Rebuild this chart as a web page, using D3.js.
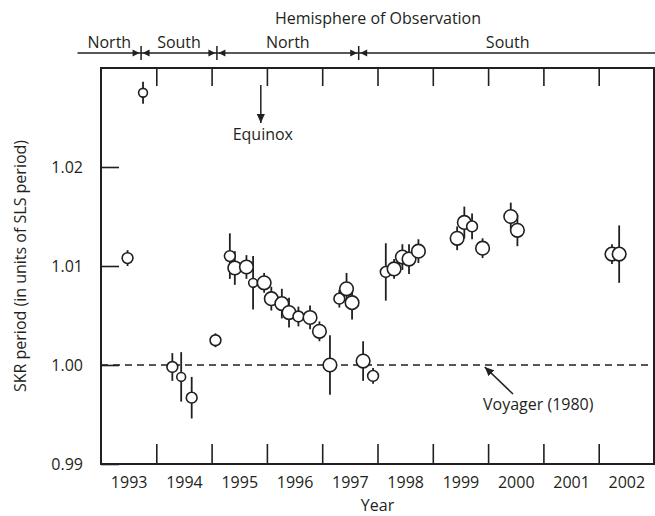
<!DOCTYPE html>
<meta charset="utf-8">
<style>

html, body {
  margin: 0;
  background: #fff;
}

svg text {
  font-family: "Open Sans", "Noto Sans", sans-serif;
  fill: #231f20;
}

.frame {
  fill: none;
  stroke: #231f20;
  stroke-width: 2px;
}

.ticks line {
  stroke: #231f20;
  stroke-width: 1.6px;
}

.errs line {
  stroke: #231f20;
  stroke-width: 1.8px;
}

.pts circle {
  fill: #fff;
  stroke: #231f20;
  stroke-width: 1.6px;
}

</style>

<body>
  <svg class="svg" width="655" height="516"></svg>
</body>

<script src="https://cdn.jsdelivr.net/npm/d3@7"></script>
<script>

/* data */
var years = [1993.48, 1993.76, 1994.29, 1994.45, 1994.64, 1995.07, 1995.33, 1995.42,
  1995.63, 1995.75, 1995.95, 1996.08, 1996.27, 1996.40, 1996.57, 1996.78, 1996.95,
  1997.14, 1997.31, 1997.44, 1997.54, 1997.74, 1997.92, 1998.15, 1998.30, 1998.45,
  1998.57, 1998.74, 1999.44, 1999.57, 1999.71, 1999.90, 2000.41, 2000.53, 2002.24, 2002.37];
var periods = [1.0108, 1.0275, 0.9998, 0.9988, 0.9967, 1.0025, 1.0110, 1.0098,
  1.0099, 1.0083, 1.0083, 1.0067, 1.0062, 1.0053, 1.0049, 1.0048, 1.0034,
  1.0000, 1.0067, 1.0077, 1.0063, 1.0004, 0.9989, 1.0094, 1.0097, 1.0109,
  1.0107, 1.0115, 1.0128, 1.0144, 1.0140, 1.0118, 1.0150, 1.0136, 1.0112, 1.0112];
var errors = [0.0008, 0.0011, 0.0014, 0.0025, 0.0021, 0.0007, 0.0023, 0.0017,
  0.0012, 0.0027, 0.0010, 0.0012, 0.0015, 0.0015, 0.0010, 0.0012, 0.0010,
  0.0030, 0.0009, 0.0016, 0.0017, 0.0020, 0.0008, 0.0029, 0.0010, 0.0013,
  0.0015, 0.0012, 0.0012, 0.0016, 0.0013, 0.0010, 0.0014, 0.0016, 0.0010, 0.0029];
// relative marker weight (1 small .. 3 large)
var weights = [2, 1, 2, 1, 2, 2, 2, 3, 3, 1, 3, 3, 3, 3, 2, 3, 3,
  3, 2, 3, 3, 3, 2, 2, 3, 3, 3, 3, 3, 3, 2, 3, 3, 3, 3, 3];

var yearLabels = ["1993", "1994", "1995", "1996", "1997", "1998", "1999", "2000", "2001", "2002"];
var yTicks = [0.99, 1.00, 1.01, 1.02];

var hemiNames = ["North", "South", "North", "South"];
var hemiEdges = [1992.575, 1993.725, 1995.096, 1997.66, 2003.05];

var equinoxYear = 1995.89;
var voyagerPeriod = 1.00;

/* d3 */
var svg = d3.select(".svg");
var fs = 16;
var mLeft = 101, mRight = 654, mTop = 68, mBottom = 464;

var x = d3.scaleLinear().domain([1993, 2003]).range([mLeft, mRight]);
var y = d3.scaleLinear().domain([0.99, 1.03]).range([mBottom, mTop]);
var r = d3.scaleOrdinal().domain([1, 2, 3]).range([4.4, 5.4, 6.8]);

var pts = years.map(function(d, i) {
  return {year: d, v: periods[i], e: errors[i], w: weights[i]};
});

svg.append("defs").append("marker")
    .attr("id", "head")
    .attr("viewBox", "0 -5 10 10")
    .attr("refX", 10)
    .attr("refY", 0)
    .attr("markerWidth", 9)
    .attr("markerHeight", 9)
    .attr("markerUnits", "userSpaceOnUse")
    .attr("orient", "auto")
  .append("path")
    .attr("d", "M0,-4.5L10,0L0,4.5Z")
    .attr("fill", "#231f20");

// ticks on the inside of the frame
var innerYears = d3.range(1994, 2003);

svg.append("g")
    .attr("class", "ticks")
    .attr("transform", "translate(0," + mBottom + ")")
    .call(d3.axisBottom(x).tickValues(innerYears).tickSize(-20).tickFormat(""))
    .call(function(g) { g.select(".domain").remove(); });

svg.append("g")
    .attr("class", "ticks")
    .attr("transform", "translate(0," + mTop + ")")
    .call(d3.axisTop(x).tickValues(innerYears).tickSize(-18).tickFormat(""))
    .call(function(g) { g.select(".domain").remove(); });

var yAxis = svg.append("g")
    .attr("class", "ticks")
    .attr("transform", "translate(" + mLeft + ",0)")
    .call(d3.axisLeft(y).tickValues(yTicks).tickSize(-18).tickPadding(18)
      .tickFormat(d3.format(".2f")));
yAxis.select(".domain").remove();
yAxis.selectAll("text")
    .attr("font-size", fs)
    .attr("font-family", null)
    .attr("fill", null);

// year labels centred in each year
var xLabels = svg.append("g")
    .attr("transform", "translate(0," + mBottom + ")")
    .call(d3.axisBottom(x)
      .tickValues(yearLabels.map(function(d) { return +d + 0.5; }))
      .tickSize(0).tickPadding(13)
      .tickFormat(function(d, i) { return yearLabels[i]; }));
xLabels.select(".domain").remove();
xLabels.selectAll("text")
    .attr("font-size", fs)
    .attr("font-family", null)
    .attr("fill", null);

svg.append("text")
    .attr("x", (mLeft + mRight) / 2)
    .attr("y", 511)
    .attr("text-anchor", "middle")
    .attr("font-size", fs)
    .text("Year");

svg.append("text")
    .attr("transform", "translate(26," + (mTop + mBottom) / 2 + ") rotate(-90)")
    .attr("text-anchor", "middle")
    .attr("font-size", fs)
    .text("SKR period (in units of SLS period)");

// voyager reference line
svg.append("line")
    .attr("x1", mLeft).attr("x2", mRight)
    .attr("y1", y(voyagerPeriod)).attr("y2", y(voyagerPeriod))
    .attr("stroke", "#231f20")
    .attr("stroke-width", 1.5)
    .attr("stroke-dasharray", "7,5");

// error bars then circles
svg.append("g")
    .attr("class", "errs")
  .selectAll("line")
  .data(pts)
  .enter().append("line")
    .attr("x1", function(d) { return x(d.year); })
    .attr("x2", function(d) { return x(d.year); })
    .attr("y1", function(d) { return y(d.v - d.e); })
    .attr("y2", function(d) { return y(d.v + d.e); });

svg.append("g")
    .attr("class", "pts")
  .selectAll("circle")
  .data(pts)
  .enter().append("circle")
    .attr("cx", function(d) { return x(d.year); })
    .attr("cy", function(d) { return y(d.v); })
    .attr("r", function(d) { return r(d.w); });

svg.append("rect")
    .attr("class", "frame")
    .attr("x", mLeft).attr("y", mTop)
    .attr("width", mRight - mLeft).attr("height", mBottom - mTop);

// hemisphere bar on top
var hemiY = 53;

svg.append("text")
    .attr("x", 378)
    .attr("y", 24)
    .attr("text-anchor", "middle")
    .attr("font-size", fs)
    .text("Hemisphere of Observation");

svg.append("line")
    .attr("x1", x(hemiEdges[0])).attr("x2", x(hemiEdges[hemiEdges.length - 1]))
    .attr("y1", hemiY).attr("y2", hemiY)
    .attr("stroke", "#231f20")
    .attr("stroke-width", 1.5);

svg.append("g")
  .selectAll("text")
  .data(hemiNames)
  .enter().append("text")
    .attr("x", function(d, i) { return x((hemiEdges[i] + hemiEdges[i + 1]) / 2); })
    .attr("y", hemiY - 5)
    .attr("text-anchor", "middle")
    .attr("font-size", fs)
    .text(String);

var inner = hemiEdges.slice(1, -1);
var bars = svg.append("g").selectAll("g")
  .data(inner)
  .enter().append("g")
    .attr("transform", function(d) { return "translate(" + x(d) + "," + hemiY + ")"; });

bars.append("line")
    .attr("y1", -7).attr("y2", 7)
    .attr("stroke", "#231f20")
    .attr("stroke-width", 1.5);

bars.append("path")
    .attr("d", "M-1.5,0L-8.5,-3.5L-8.5,3.5ZM1.5,0L8.5,-3.5L8.5,3.5Z")
    .attr("fill", "#231f20");

// annotations
svg.append("line")
    .attr("x1", x(equinoxYear)).attr("x2", x(equinoxYear))
    .attr("y1", 85).attr("y2", 123)
    .attr("stroke", "#231f20")
    .attr("stroke-width", 1.5)
    .attr("marker-end", "url(#head)");

svg.append("text")
    .attr("x", x(equinoxYear) + 2)
    .attr("y", 140)
    .attr("text-anchor", "middle")
    .attr("font-size", fs)
    .text("Equinox");

svg.append("line")
    .attr("x1", 513).attr("y1", 394)
    .attr("x2", x(1999.94)).attr("y2", y(voyagerPeriod) + 2)
    .attr("stroke", "#231f20")
    .attr("stroke-width", 1.5)
    .attr("marker-end", "url(#head)");

svg.append("text")
    .attr("x", 483)
    .attr("y", 410)
    .attr("font-size", fs)
    .text("Voyager (1980)");

</script>
